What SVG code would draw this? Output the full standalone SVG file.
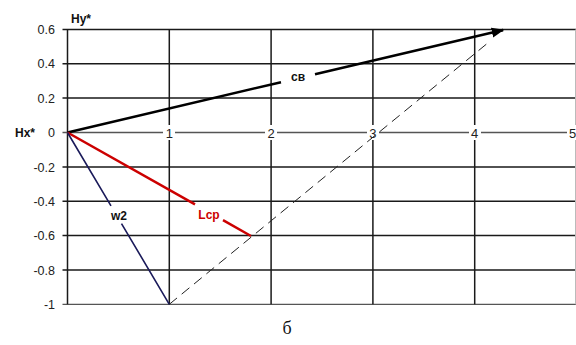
<svg xmlns="http://www.w3.org/2000/svg" width="576" height="345" viewBox="0 0 576 345">
<style>
.grid{stroke:#1a1a1a;stroke-width:1.5;fill:none}
.ax{stroke:#555;stroke-width:1.3;fill:none}
.yl{font-family:"Liberation Sans",Arial,sans-serif;font-size:12.5px;fill:#222;text-anchor:end}
.xl{font-family:"Liberation Sans",Arial,sans-serif;font-size:13px;fill:#222;text-anchor:middle}
.ttl{font-family:"Liberation Sans",Arial,sans-serif;font-size:12px;font-weight:bold;fill:#111}
.lbl{font-family:"Liberation Sans",Arial,sans-serif;font-size:12px;font-weight:bold;text-anchor:middle}
</style>
<defs>
<marker id="arr" viewBox="0 0 10 10" refX="9" refY="5" markerWidth="5" markerHeight="5" orient="auto" markerUnits="strokeWidth">
<path d="M0,1 L10,5 L0,9 z" fill="#000"/>
</marker>
</defs>
<rect width="576" height="345" fill="#fff"/>
<g id="grid">
<path class="grid" d="M62.5,29.5H576M62.5,63.8H576M62.5,98.1H576M62.5,167H576M62.5,201.3H576M62.5,235.6H576M62.5,270H576"/>
<path class="ax" d="M62.5,304.3H576"/>
<path class="grid" d="M67.5,29.5V304.3M169.3,29.5V304.3M271.1,29.5V304.3M372.9,29.5V304.3M474.7,29.5V304.3"/>
<path d="M575.5,29.5V304.3" stroke="#bbb" stroke-width="1"/>
<path class="ax" d="M62.5,132.5H576"/>
</g>
<g id="axis-labels">
<text class="yl" x="55" y="34">0.6</text>
<text class="yl" x="55" y="68">0.4</text>
<text class="yl" x="55" y="102.5">0.2</text>
<text class="yl" x="55" y="137">0</text>
<text class="yl" x="55" y="171.5">-0.2</text>
<text class="yl" x="55" y="206">-0.4</text>
<text class="yl" x="55" y="240">-0.6</text>
<text class="yl" x="55" y="274.5">-0.8</text>
<text class="yl" x="55" y="309">-1</text>
<rect x="163" y="125" width="12" height="15" fill="#fff"/>
<rect x="265" y="125" width="12" height="15" fill="#fff"/>
<rect x="367" y="125" width="12" height="15" fill="#fff"/>
<rect x="469" y="125" width="12" height="15" fill="#fff"/>
<rect x="567" y="125" width="9" height="15" fill="#fff"/>
<text class="xl" x="169.3" y="138">1</text>
<text class="xl" x="271.1" y="138">2</text>
<text class="xl" x="372.9" y="138">3</text>
<text class="xl" x="474.7" y="138">4</text>
<text class="xl" x="572.5" y="138">5</text>
<text class="ttl" x="71" y="23">Hy*</text>
<text class="ttl" x="15" y="137">Hx*</text>
</g>
<g id="connectors">
<path d="M169.3,304.3L489,42" stroke="#222" stroke-width="1" stroke-dasharray="10,6" fill="none"/>
<path d="M67.5,132.5L281,82.2M315,74.2L503,30" stroke="#000" stroke-width="2.5" fill="none"/>
<path d="M500,30.7L503,30" stroke="#000" stroke-width="2.5" fill="none" marker-end="url(#arr)"/>
<path d="M67.5,132.5L195,204.4M223,220.2L251,236" stroke="#cc0000" stroke-width="2.5" fill="none"/>
<path d="M67.5,132.5L111,205.9M121.5,223.6L169.3,304.3" stroke="#1a1a5a" stroke-width="1.6" fill="none"/>
</g>
<g id="label-cb"><text class="lbl" x="298" y="81" fill="#111">св</text></g>
<g id="label-lcp"><text class="lbl" x="209" y="219" fill="#cc0000">Lcp</text></g>
<g id="label-w2"><text class="lbl" x="119" y="220" fill="#111" font-weight="normal">w2</text></g>
<text x="287" y="334" font-family="Liberation Serif,Times New Roman,serif" font-size="18" text-anchor="middle" fill="#111">б</text>
</svg>
